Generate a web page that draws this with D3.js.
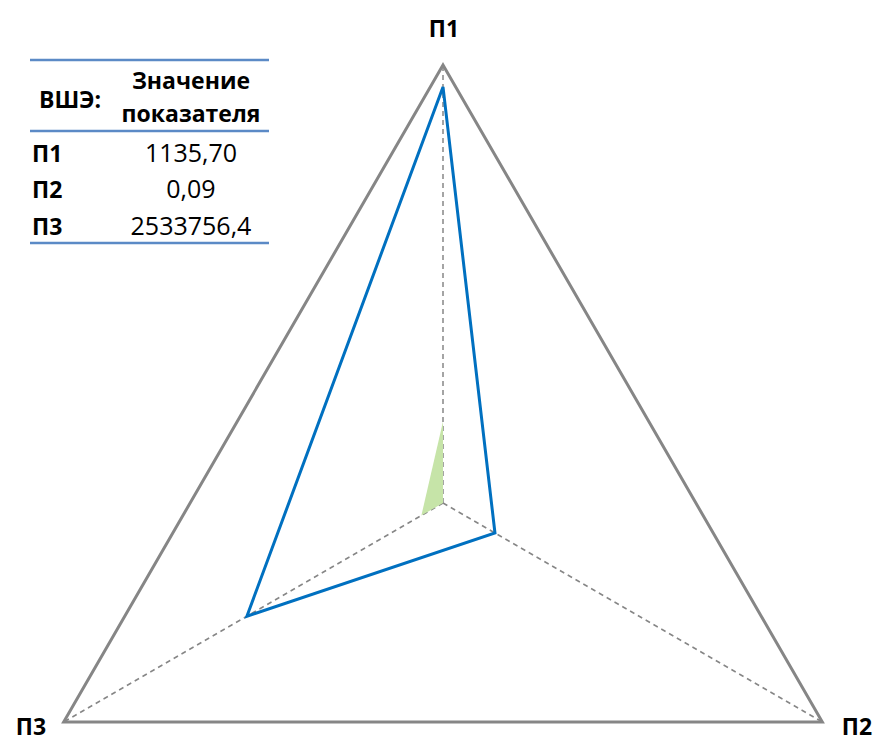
<!DOCTYPE html>
<html><head><meta charset="utf-8">
<script src="https://cdn.jsdelivr.net/npm/d3@7"></script>
<style>body{margin:0;background:#fff}svg{display:block}text{font-family:"Open Sans","Noto Sans",sans-serif}</style>
</head><body>
<svg id="chart" width="875" height="742"></svg>
<script>
const axes = ["П1", "П2", "П3"];
const seriesBlue = [0.95, 0.137, 0.517];
const seriesGreen = [0.186, 0, 0.057];
const tableHeader = ["ВШЭ:", "Значение", "показателя"];
const tableRows = ["П1", "П2", "П3"];
const tableValues = ["1135,70", "0,09", "2533756,4"];

const svg = d3.select("#chart");
const cx = 443, cy = 503, R = 438;
const r = d3.scaleLinear().domain([0, 1]).range([0, R]);
const ang = d3.scalePoint().domain(axes).range([0, 2 * Math.PI * 2 / 3]);
const pt = (a, v) => [cx + r(v) * Math.sin(ang(a)), cy - r(v) * Math.cos(ang(a))];

const g = svg.append("g");
g.append("path")
  .attr("d", d3.line()(axes.map(a => pt(a, 1))) + "Z")
  .attr("fill", "none").attr("stroke", "#868686").attr("stroke-width", 3).attr("stroke-linejoin", "miter");
axes.forEach(a => {
  const [x, y] = pt(a, 1);
  g.append("line").attr("x1", cx).attr("y1", cy).attr("x2", x).attr("y2", y)
    .attr("stroke", "#868686").attr("stroke-width", 1.5).attr("stroke-dasharray", "5,4");
});
g.append("path")
  .attr("d", d3.line()(axes.map((a, i) => pt(a, seriesGreen[i]))) + "Z")
  .attr("fill", "#c6e4a8").attr("stroke", "none");
g.append("path")
  .attr("d", d3.line()(axes.map((a, i) => pt(a, seriesBlue[i]))) + "Z")
  .attr("fill", "none").attr("stroke", "#0070c0").attr("stroke-width", 3).attr("stroke-linejoin", "miter");

const FS = 23, FV = 25;
const lab = [[444, 37], [857, 735], [31, 735]];
axes.forEach((a, i) => {
  svg.append("text").attr("x", lab[i][0]).attr("y", lab[i][1]).attr("text-anchor", "middle")
    .attr("font-size", FS).attr("font-weight", "bold").attr("fill", "#000").text(a);
});

const tg = svg.append("g");
[60, 131, 243].forEach(y => tg.append("line").attr("x1", 30).attr("x2", 269).attr("y1", y).attr("y2", y)
  .attr("stroke", "#5b8ac6").attr("stroke-width", 2.5));
tg.append("text").attr("x", 39).attr("y", 108).attr("font-size", FS).attr("font-weight", "bold").text(tableHeader[0]);
tg.append("text").attr("x", 191).attr("y", 89).attr("text-anchor", "middle").attr("font-size", FS).attr("font-weight", "bold").text(tableHeader[1]);
tg.append("text").attr("x", 191).attr("y", 122).attr("text-anchor", "middle").attr("font-size", FS).attr("font-weight", "bold").text(tableHeader[2]);
const rowY = [162, 198, 235];
tableRows.forEach((t, i) => {
  tg.append("text").attr("x", 32).attr("y", rowY[i]).attr("font-size", FS).attr("font-weight", "bold").text(t);
  tg.append("text").attr("x", 191).attr("y", rowY[i]).attr("text-anchor", "middle").attr("font-size", FV).text(tableValues[i]);
});
</script>
</body></html>
